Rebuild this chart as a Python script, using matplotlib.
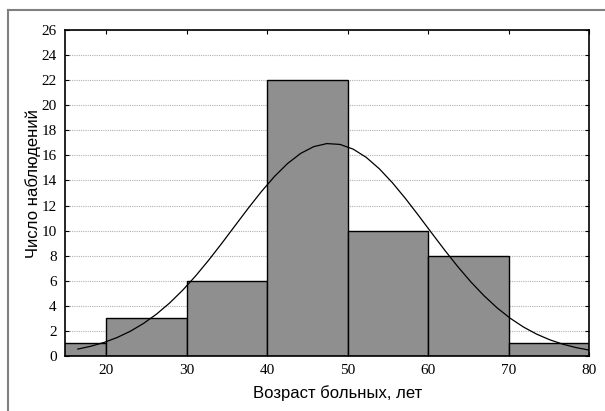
import numpy as np
import matplotlib.pyplot as plt
from matplotlib.lines import Line2D

# границы интервалов и частоты
bin_left = [10, 20, 30, 40, 50, 60, 70]
counts = [1, 3, 6, 22, 10, 8, 1]
bin_width = 10
x_ticks = [20, 30, 40, 50, 60, 70, 80]
y_ticks = [0, 2, 4, 6, 8, 10, 12, 14, 16, 18, 20, 22, 24, 26]

# параметры нормальной кривой
mu, sigma = 47.9, 12.0
n_total = sum(counts)

fig = plt.figure(figsize=(6.05, 4.11), dpi=100)
ax = fig.add_axes([0.1074, 0.1338, 0.8662, 0.7932])

ax.bar(bin_left, counts, width=bin_width, align='edge',
       color='#8f8f8f', edgecolor='black', linewidth=1, zorder=2)

xs = np.linspace(16.5, 80, 40)
ys = n_total * bin_width / (sigma * np.sqrt(2 * np.pi)) * np.exp(-(xs - mu) ** 2 / (2 * sigma ** 2))
ax.plot(xs, ys, color='black', linewidth=0.9, zorder=3)

ax.set_xlim(14.9, 80)
ax.set_ylim(0, 26)
ax.set_xticks(x_ticks)
ax.set_yticks(y_ticks)
ax.yaxis.grid(True, linestyle=(0, (1, 1)), color='#b0b0b0', linewidth=0.8, zorder=0)
ax.set_axisbelow(True)
ax.tick_params(direction='in', length=3, top=True, right=True, width=0.8, pad=6)
for lab in ax.get_xticklabels() + ax.get_yticklabels():
    lab.set_family('Liberation Serif')
    lab.set_fontsize(11)
for s in ax.spines.values():
    s.set_linewidth(1.2)

ax.set_xlabel("Возраст больных, лет", family='Liberation Sans', fontsize=12)
ax.set_ylabel("Число наблюдений", family='Liberation Sans', fontsize=12)
ax.xaxis.set_label_coords(0.52, -0.09)
ax.yaxis.set_label_coords(-0.045, 0.53)

# внешняя рамка
fig.add_artist(Line2D([8 / 605, 8 / 605], [0, 1 - 10 / 411], transform=fig.transFigure,
                      color='#808080', linewidth=1.5))
fig.add_artist(Line2D([8 / 605, 1], [1 - 10 / 411, 1 - 10 / 411], transform=fig.transFigure,
                      color='#808080', linewidth=1.5))

fig.savefig('out.png', dpi=100)
